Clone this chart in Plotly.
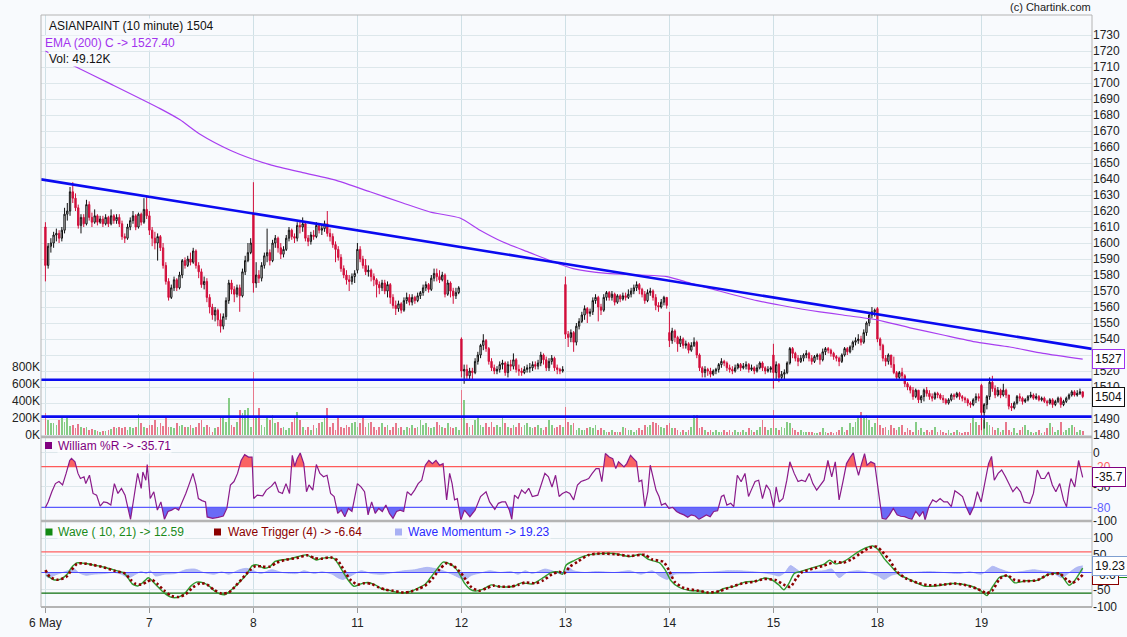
import plotly.graph_objects as go

# ---------------------------------------------------------------- data
DAY_LABELS = ["6 May", "7", "8", "11", "12", "13", "14", "15", "18", "19"]
BARS_PER_DAY = 38
DAY_OPEN = [1610, 1617, 1619, 1583, 1540, 1574, 1544, 1530, 1559, 1511]

close_06 = [1586,1598,1600,1605,1606,1603,1608,1618,1620,1632,1628,1622,1611,1616,1612,1624,1616,1613,1617,1613,1615,1612,1616,1612,1617,1614,1616,1612,1604,1603,1610,1614,1617,1610,1618,1613,1621,1617]
high_06 = [1613,1600,1603,1607,1609,1608,1610,1622,1625,1635,1638,1631,1624,1618,1618,1627,1626,1619,1621,1618,1617,1617,1618,1617,1621,1618,1618,1618,1614,1606,1612,1616,1620,1618,1619,1619,1628,1629]
low_06 = [1576,1584,1594,1597,1601,1600,1601,1606,1614,1617,1625,1620,1609,1606,1610,1611,1614,1610,1612,1611,1612,1610,1611,1610,1611,1612,1612,1610,1602,1600,1602,1608,1612,1608,1609,1611,1612,1615]

close_07 = [1608,1603,1600,1604,1597,1586,1576,1566,1572,1577,1572,1580,1589,1586,1590,1588,1595,1586,1582,1574,1576,1566,1560,1555,1558,1552,1548,1554,1564,1575,1571,1568,1572,1567,1582,1589,1594,1600]
high_07 = [1620,1610,1607,1606,1605,1600,1588,1578,1574,1579,1578,1582,1590,1591,1592,1594,1597,1596,1588,1584,1579,1578,1568,1562,1560,1559,1556,1556,1566,1577,1577,1573,1574,1574,1584,1592,1600,1603]
low_07 = [1605,1598,1596,1589,1595,1584,1574,1564,1565,1570,1570,1571,1578,1584,1585,1586,1587,1584,1578,1572,1571,1563,1556,1552,1551,1548,1544,1546,1552,1562,1568,1563,1566,1557,1566,1580,1588,1593]

close_08 = [1575,1580,1578,1586,1592,1594,1589,1600,1603,1597,1593,1596,1603,1608,1604,1603,1611,1610,1612,1603,1601,1605,1604,1611,1608,1609,1612,1606,1604,1599,1596,1591,1584,1580,1577,1576,1579,1581]
high_08 = [1638,1588,1583,1588,1594,1609,1596,1602,1605,1604,1600,1598,1605,1610,1609,1606,1613,1614,1616,1613,1605,1607,1608,1613,1612,1612,1614,1620,1609,1606,1601,1598,1593,1586,1583,1580,1581,1583]
low_08 = [1569,1572,1575,1576,1584,1588,1586,1588,1597,1594,1590,1591,1595,1601,1602,1600,1601,1606,1607,1601,1598,1599,1602,1603,1606,1605,1607,1604,1601,1597,1588,1589,1582,1578,1574,1570,1574,1575]

close_11 = [1596,1590,1586,1582,1583,1579,1577,1574,1572,1575,1570,1574,1566,1561,1559,1562,1558,1564,1566,1563,1566,1564,1567,1569,1572,1574,1571,1578,1581,1579,1577,1580,1568,1575,1570,1567,1569,1572]
high_11 = [1600,1598,1592,1590,1586,1584,1581,1578,1576,1577,1577,1576,1575,1568,1564,1564,1563,1566,1569,1568,1568,1567,1569,1570,1574,1576,1575,1580,1584,1584,1583,1582,1581,1577,1576,1572,1572,1573]
low_11 = [1581,1588,1584,1580,1579,1576,1573,1566,1568,1570,1568,1566,1562,1559,1555,1557,1556,1557,1562,1561,1561,1562,1563,1565,1567,1570,1569,1570,1576,1576,1575,1576,1566,1567,1566,1562,1565,1568]

close_12 = [1520,1521,1517,1520,1519,1526,1530,1536,1539,1534,1526,1522,1520,1521,1524,1525,1519,1524,1523,1527,1521,1520,1519,1521,1522,1522,1524,1523,1525,1530,1527,1522,1526,1528,1522,1521,1520,1521]
high_12 = [1541,1524,1524,1522,1522,1528,1532,1537,1543,1540,1535,1528,1524,1523,1526,1527,1526,1526,1527,1531,1528,1524,1522,1523,1524,1525,1526,1526,1527,1532,1531,1529,1528,1530,1529,1524,1522,1523]
low_12 = [1516,1512,1514,1514,1515,1518,1524,1528,1533,1532,1524,1520,1518,1518,1519,1521,1517,1516,1520,1521,1519,1517,1517,1518,1519,1519,1520,1521,1521,1523,1524,1520,1520,1524,1520,1518,1518,1519]

close_13 = [1543,1541,1544,1538,1548,1551,1555,1559,1556,1557,1564,1566,1560,1558,1566,1569,1566,1568,1563,1567,1565,1567,1566,1568,1570,1572,1574,1571,1568,1564,1569,1570,1566,1561,1560,1563,1566,1561]
high_13 = [1579,1545,1546,1545,1550,1553,1557,1561,1560,1559,1566,1568,1567,1562,1568,1570,1570,1570,1569,1568,1568,1569,1569,1571,1572,1574,1576,1575,1572,1570,1571,1572,1571,1568,1563,1565,1567,1566]
low_13 = [1540,1535,1538,1532,1536,1546,1550,1552,1550,1554,1555,1562,1551,1555,1557,1564,1564,1564,1561,1562,1563,1564,1564,1565,1566,1568,1570,1568,1566,1562,1563,1567,1564,1558,1557,1559,1561,1559]

close_14 = [1539,1545,1541,1537,1540,1536,1537,1533,1536,1538,1530,1522,1519,1521,1520,1518,1520,1521,1524,1526,1525,1522,1521,1520,1522,1524,1522,1523,1524,1521,1522,1520,1522,1525,1522,1520,1521,1522]
high_14 = [1557,1547,1546,1542,1542,1541,1539,1538,1538,1541,1539,1531,1523,1523,1522,1522,1521,1522,1525,1528,1527,1526,1524,1523,1524,1525,1525,1525,1526,1525,1524,1523,1524,1526,1526,1523,1523,1523]
low_14 = [1535,1537,1538,1532,1535,1534,1534,1531,1532,1535,1528,1520,1516,1516,1517,1516,1517,1518,1519,1522,1523,1520,1519,1518,1519,1521,1520,1521,1521,1519,1520,1518,1519,1521,1520,1518,1519,1519]

close_15 = [1519,1524,1516,1518,1519,1525,1534,1531,1528,1526,1528,1530,1531,1528,1526,1529,1530,1527,1532,1534,1533,1531,1529,1528,1526,1530,1534,1532,1535,1538,1539,1540,1538,1544,1550,1555,1557,1558]
high_15 = [1537,1526,1525,1520,1521,1526,1535,1535,1532,1530,1530,1531,1533,1532,1530,1530,1531,1531,1534,1535,1535,1534,1532,1530,1529,1531,1535,1535,1536,1539,1541,1543,1542,1546,1551,1556,1560,1559]
low_15 = [1509,1514,1513,1514,1515,1518,1524,1528,1526,1523,1525,1526,1528,1526,1524,1525,1527,1524,1526,1530,1531,1529,1527,1526,1523,1525,1529,1530,1531,1533,1536,1537,1536,1537,1542,1548,1553,1554]

close_18 = [1540,1536,1528,1526,1530,1524,1519,1516,1519,1517,1512,1510,1508,1504,1508,1502,1504,1508,1506,1504,1503,1506,1505,1503,1502,1500,1502,1505,1504,1506,1504,1503,1502,1500,1499,1502,1504,1503]
high_18 = [1560,1541,1537,1530,1531,1530,1529,1520,1520,1522,1518,1513,1511,1510,1509,1508,1505,1509,1510,1508,1506,1507,1507,1506,1505,1503,1503,1506,1506,1507,1507,1505,1504,1503,1501,1503,1506,1506]
low_18 = [1538,1533,1526,1523,1524,1522,1518,1514,1514,1515,1510,1508,1506,1502,1503,1500,1500,1501,1504,1502,1501,1502,1503,1502,1500,1499,1499,1501,1502,1503,1502,1501,1500,1498,1497,1498,1500,1501]

close_19 = [1494,1499,1504,1513,1509,1505,1508,1505,1508,1505,1498,1497,1500,1504,1503,1501,1502,1504,1505,1503,1504,1502,1503,1501,1500,1502,1499,1501,1503,1499,1501,1503,1505,1507,1505,1506,1507,1504]
high_19 = [1512,1500,1505,1516,1517,1511,1510,1509,1512,1509,1505,1500,1501,1505,1506,1504,1503,1505,1507,1506,1506,1505,1504,1504,1502,1503,1503,1502,1504,1504,1502,1504,1506,1508,1508,1508,1509,1507]
low_19 = [1483,1484,1496,1502,1507,1503,1504,1503,1504,1503,1496,1495,1496,1499,1501,1499,1500,1501,1503,1502,1502,1501,1501,1500,1498,1499,1497,1498,1500,1497,1498,1500,1502,1504,1504,1504,1505,1503]

# volume in thousands
vol_06 = [254,176,137,137,117,176,195,148,195,110,117,78,125,98,78,98,59,66,59,50,39,45,50,59,70,98,78,98,78,98,59,98,78,90,246,137,90,78]
vol_07 = [120,117,176,98,137,110,215,98,98,78,137,110,117,98,98,117,78,100,137,176,98,117,90,40,78,98,195,215,150,430,117,98,156,293,254,293,312,98]
vol_08 = [742,215,312,117,98,215,176,234,137,156,78,98,59,78,156,215,273,176,98,59,98,59,117,78,137,156,195,312,98,137,59,215,98,78,117,98,137,156]
vol_11 = [98,137,195,98,137,156,98,59,98,137,98,117,59,98,137,78,98,59,98,78,117,78,98,176,117,137,98,78,98,156,117,98,78,137,98,78,98,59]
vol_12 = [535,410,137,98,117,176,195,117,98,137,98,156,98,117,98,195,137,98,78,117,98,137,98,117,137,98,78,98,117,78,59,98,176,117,78,98,117,98]
vol_13 = [332,156,117,137,59,78,59,59,78,98,78,117,59,78,59,39,39,59,39,39,39,98,78,59,59,39,59,78,59,117,98,117,156,137,117,98,78,117]
vol_14 = [137,78,78,59,39,59,39,59,98,234,234,78,98,59,39,59,39,59,39,39,59,39,59,39,59,39,39,59,39,78,59,39,59,98,176,98,59,78]
vol_15 = [293,78,59,98,78,156,137,78,59,39,59,39,39,39,39,20,27,39,78,39,27,39,20,39,59,98,39,59,137,98,156,195,265,195,234,176,98,137]
vol_18 = [195,117,78,98,59,117,78,59,98,117,39,78,59,39,156,59,78,39,59,39,59,98,39,59,39,27,59,27,39,59,39,27,39,39,137,195,156,117]
vol_19 = [234,176,156,117,98,59,78,39,59,156,59,39,78,27,59,98,117,59,39,20,39,59,27,39,78,137,98,39,59,148,39,59,78,117,98,39,59,49.12]

# EMA(200) read at bar positions
ema_pos = [0,10.5,23.6,41.9,49.2,56.5,67.5,74.8,82,94,106.5,118.6,130.6,140.5,151.5,158.8,167.2,177,184.4,192.8,205.2,217.3,227.1,235.5,247.6,260,272,283,291.4,303.8,315.9,328,340.4,352.4,364.5,379]
ema_val = [1720,1710.6,1699.6,1684,1677,1668,1658,1653,1649,1644,1639,1632,1625,1619.4,1615.6,1608,1600.6,1594,1589,1584,1581,1580,1579,1575,1569.4,1564,1560,1557,1555,1552,1547,1542.5,1538,1535,1531,1527.4]

trend_pos = [-1.6, 382.4]
trend_val = [1639.8, 1533.8]
support_levels = [1514.5, 1491.5]

# Williams %R (bar position, value)
wr_points = [(0,-80),(1.0,-72),(2.35,-57),(3.66,-45),(4.96,-42),(6.27,-47),(7.57,-30),(8.88,-11),(9.53,-8),(10.8,-13),
 (11.9,-30),(12.8,-37.5),(14.1,-35),(14.75,-45),(16.1,-32.7),(17.4,-59.5),(18.7,-62),(20.0,-78),(21.3,-72),(22.6,-73),
 (23.9,-76.6),(25.2,-45),(26.5,-59.5),(27.8,-52),(29.1,-62),(30.2,-80),(31.1,-97.6),(32.4,-64),(33.7,-30),(35.0,-52),
 (35.6,-28),(36.7,-40),(37.2,-17),(38.3,-67),(39.6,-57),(40.9,-84),(42.2,-72),(43.5,-97.6),(44.8,-86),(46.1,-84),
 (47.4,-81),(48.7,-84),(50.0,-72),(51.3,-59.5),(52.6,-45),(53.9,-30),(55.0,-47),(55.9,-67),(57.2,-70),(58.5,-72),
 (59.1,-94),(61.1,-96),(63.1,-94.6),(65.0,-92.7),(66.3,-81.5),(67.6,-47),(68.9,-42),(70.2,-30),(71.5,-11),(72.8,-2.4),
 (74.2,-6),(75.5,-6),(76.1,-67),(77.4,-62),(79.4,-63),(80.7,-54.6),(82.6,-48.8),(83.9,-42.4),(85.2,-57),(86.6,-59.5),
 (87.9,-45),(89.2,-59.5),(90.2,-3.4),(91.1,-19.5),(92.0,-8.3),(93.1,0),(94.4,-15.6),(95.4,-57),(96.3,-47),(97.7,-54.6),
 (99.0,-17),(100.3,-30),(101.6,-35),(102.9,-32.7),(104.2,-59.5),(105.5,-64),(106.8,-88.8),(108.1,-84),(109.4,-93.7),(110.7,-81.5),
 (112.0,-86),(114.0,-45),(115.3,-49.8),(116.6,-57),(117.9,-91),(119.2,-72),(120.5,-88.8),(121.8,-81.5),(123.1,-86),(124.4,-76.6),
 (125.7,-88.8),(127.0,-96),(128.3,-86),(129.6,-84),(130.9,-86),(132.2,-57),(133.6,-62),(134.9,-54.6),(136.2,-45),(137.5,-40),
 (138.8,-18),(140.1,-11),(141.4,-15.6),(142.7,-11),(144.0,-18),(145.3,-15.6),(146.6,-69),(147.7,-30),(148.6,-45),(149.5,-69),
 (150.5,-67),(151.8,-98.5),(153.1,-84),(155.1,-93.7),(157.0,-84),(159.0,-64),(161.0,-57),(162.3,-72),(164.2,-83),(165.5,-74),
 (166.8,-72),(168.1,-72),(169.5,-84),(170.4,-97.6),(171.4,-62),(172.7,-67),(174.0,-54.6),(175.3,-59.5),(176.6,-52),(177.9,-64),
 (179.9,-62),(181.2,-47),(182.5,-30),(183.8,-35),(185.1,-50),(186.4,-32.7),(187.7,-64),(188.9,-59.5),(190.3,-57),(191.6,-59.5),
 (193.0,-69),(194.4,-47),(195.7,-42),(197.1,-40),(198.5,-37.5),(199.8,-30),(201.2,-23),(202.3,-23),(203.3,-42),(204.6,-0.7),
 (206.0,-6),(207.3,-8.3),(208.4,-23),(209.4,-13),(210.5,-18),(211.4,-20.5),(212.4,-15.6),(213.8,-3.4),(214.9,-8.3),(216.0,-13),
 (216.9,-42),(217.9,-40),(219.0,-79),(220.1,-57),(221.0,-18),(222.1,-40),(223.1,-54.6),(224.2,-64),(225.1,-76.6),(226.5,-74),
 (227.8,-81.5),(229.2,-80),(230.6,-86),(231.9,-88.8),(233.3,-91),(234.7,-94.6),(236.0,-91),(237.4,-92.7),(238.8,-97.6),(240.1,-94.6),
 (241.5,-91),(242.9,-93.7),(244.2,-86),(245.6,-85),(247.0,-64),(247.9,-62),(249.0,-76.6),(250.4,-74),(251.5,-79),(252.8,-32.7),
 (254.2,-42.4),(255.6,-30),(256.9,-64),(257.9,-54.6),(259.3,-42),(260.6,-40),(262.0,-67),(263.4,-47),(264.7,-54.6),(266.1,-80),
 (267.0,-50),(268.1,-72),(269.5,-67),(270.9,-40),(272.0,-13),(273.6,-30),(275.0,-42),(276.3,-40),(277.7,-42),(279.1,-30),
 (280.4,-45),(281.8,-54.6),(283.2,-47),(284.5,-40),(285.9,-11),(287.3,-35),(288.6,-13),(290.0,-69),(291.4,-42),(292.7,-15.6),
 (294.1,-6),(295.2,0),(296.1,-18),(297.1,-32.7),(298.2,-15.6),(299.3,-1),(300.2,-18),(301.6,-13),(303.0,-15.6),(304.3,-57),
 (305.7,-96),(307.1,-97.6),(308.4,-91),(309.8,-81.5),(311.2,-91),(312.5,-93),(313.9,-93.7),(315.3,-96),(316.6,-97.6),(318.0,-86),
 (319.4,-93),(320.7,-86),(321.4,-98.5),(322.8,-79),(324.2,-69),(325.5,-72),(326.9,-67),(328.3,-72),(329.6,-72),(331.0,-79),
 (332.3,-55.6),(333.7,-59.5),(335.1,-64),(336.4,-79),(337.8,-91),(339.2,-79),(340.5,-57),(341.9,-72),(343.3,-45),(344.6,-15.6),
 (345.7,-5),(346.7,-40),(348.1,-30),(349.4,-25),(350.8,-35),(352.2,-47),(353.5,-57),(354.9,-50),(356.3,-57),(357.6,-72),
 (359.7,-74),(361.0,-59.5),(362.4,-25),(363.8,-37.5),(365.1,-37.5),(366.5,-28),(367.9,-47),(369.2,-57),(370.6,-45),(372.0,-69),
 (373.1,-79),(374.0,-52),(374.7,-37.5),(376.1,-50),(377.5,-11),(379,-35.71)]

# Wave (10,21) (bar position, value)
wave_points = [(0.4,-8),(3.0,-21),(5.6,-19),(8.2,-3),(9.5,14),(11.5,28),(14.8,26),(17.4,22),(21.3,16),(25.2,7),
 (28.5,-1),(29.8,-11),(31.7,-33),(33.7,-39),(35.6,-29),(37.6,-15),(38.9,-23),(40.9,-40),(43.5,-60),(46.1,-72),
 (48.7,-71),(51.3,-57),(53.3,-38),(55.2,-28),(57.8,-30),(59.8,-39),(61.7,-53),(63.7,-62),(65.7,-64),(68.3,-48),
 (70.9,-28),(73.5,-6),(75.5,19),(77.4,22),(80.0,12),(82.0,17),(83.9,32),(86.6,37),(89.2,39),(91.8,45),
 (95.0,51),(97.0,45),(99.0,36),(100.9,41),(103.5,43),(105.5,40),(106.8,27),(108.7,2),(110.7,-23),(112.7,-40),
 (115.3,-33),(117.9,-29),(120.5,-36),(123.1,-48),(125.7,-52),(128.3,-57),(130.9,-59),(133.6,-54),(136.2,-45),(138.8,-34),
 (140.7,-15),(143.3,12),(145.3,30),(147.9,24),(149.9,12),(151.8,-11),(153.1,-31),(155.1,-48),(157.0,-54),(159.7,-49),
 (162.9,-36),(165.5,-41),(168.8,-42),(171.4,-39),(174.0,-30),(177.9,-33),(181.9,-15),(184.5,-1),(187.1,2),(188.9,-5),
 (190.3,22),(193.0,34),(197.1,48),(201.2,54),(208.0,55),(213.5,46),(217.6,53),(220.3,38),(224.4,28),(226.5,7),
 (228.5,-23),(231.3,-42),(235.4,-52),(239.5,-54),(242.2,-60),(244.9,-58),(247.7,-47),(251.7,-40),(255.8,-27),(259.9,-25),
 (262.7,-16),(265.4,-21),(268.1,-37),(269.8,-50),(271.6,-32),(273.6,-3),(276.3,4),(280.4,14),(284.5,24),(286.6,36),
 (288.6,25),(291.4,31),(294.1,44),(296.8,59),(299.6,71),(302.3,77),(304.3,66),(306.4,41),(309.1,17),(311.9,-6),
 (316.0,-21),(321.4,-40),(326.9,-37),(331.0,-32),(335.1,-34),(339.2,-42),(341.9,-54),(344.0,-67),(346.0,-42),(348.7,-13),
 (351.5,-10),(354.2,-30),(358.3,-24),(362.4,-23),(366.5,-5),(370.6,-3),(374.0,-37),(376.1,-23),(379,12.59)]

# Wave trigger (4)
trig_points = [(0,7),(1.7,-13),(4.3,-21),(7.6,-13),(9.5,7),(11.5,25),(13.4,27),(17.4,22),(21.3,15),(25.2,5),
 (29.1,-3),(31.1,-21),(33.0,-33),(35.0,-35),(36.9,-28),(38.9,-21),(40.9,-33),(43.5,-53),(46.1,-68),(48.7,-71),
 (51.3,-63),(53.9,-43),(56.5,-31),(59.1,-35),(61.7,-51),(64.4,-61),(67.0,-58),(69.6,-38),(72.2,-15),(74.8,7),
 (76.8,19),(79.4,17),(82.0,17),(84.6,29),(87.9,37),(91.8,42),(95.7,50),(98.3,42),(100.9,40),(104.2,44),
 (106.8,35),(108.7,12),(111.4,-21),(114.0,-35),(116.6,-31),(119.2,-33),(121.8,-43),(124.4,-50),(127.0,-53),(130.9,-58),
 (133.6,-55),(136.2,-48),(138.8,-38),(141.4,-18),(144.0,9),(146.6,27),(149.2,19),(151.8,-1),(153.1,-15),(155.7,-43),
 (158.4,-53),(161.0,-46),(163.6,-38),(166.2,-41),(170.1,-41),(172.7,-36),(175.3,-29),(179.2,-31),(181.9,-23),(185.1,-5),
 (187.7,2),(189.6,-2),(191.6,17),(194.4,31),(198.5,51),(202.6,55),(208.0,53),(213.5,48),(219.0,51),(221.7,38),
 (225.8,31),(227.8,7),(229.9,-27),(233.3,-45),(238.1,-52),(242.2,-58),(246.3,-54),(250.4,-42),(254.5,-32),(258.6,-27),
 (262.7,-19),(266.8,-22),(270.2,-37),(272.2,-42),(274.3,-18),(276.3,0),(280.4,11),(284.5,20),(288.6,31),(291.4,28),
 (294.8,39),(297.5,54),(300.9,71),(303.7,75),(305.7,61),(308.4,36),(311.2,2),(314.6,-18),(318.7,-30),(322.8,-37),
 (328.3,-35),(332.3,-32),(336.4,-37),(340.5,-47),(344.0,-60),(346.0,-52),(348.7,-18),(351.5,-8),(354.2,-22),(358.3,-25),
 (362.4,-22),(366.5,-6),(370.6,-3),(373.3,-22),(375.3,-30),(377.3,-20),(379,-6.64)]

# Wave momentum
mom_points = [(0,-8),(1.0,-15),(4.3,-5),(8.2,5),(10.2,12),(12.1,0),(14.8,-8),(17.4,-5),(21.3,-3),(25.2,0),
 (27.8,-5),(30.4,-15),(33.0,-5),(35.0,3),(36.9,-3),(38.3,5),(40.2,-10),(43.5,-5),(47.4,-3),(51.3,8),
 (54.6,10),(57.8,0),(61.7,-5),(64.4,2),(67.0,-5),(70.9,8),(73.5,12),(76.1,5),(78.7,-3),(82.6,8),
 (86.6,0),(91.8,-3),(94.4,5),(98.3,-3),(100.9,2),(104.8,-5),(106.8,-15),(108.7,-20),(112.0,-8),(115.3,5),
 (119.2,-3),(123.1,-5),(127.0,0),(130.9,5),(134.9,8),(139.4,15),(142.0,12),(145.3,5),(148.6,-5),(151.2,-15),
 (153.1,-22),(155.7,-8),(159.7,0),(162.3,5),(166.2,0),(170.1,3),(172.7,-5),(175.3,5),(177.9,-3),(182.5,10),
 (185.1,5),(188.9,-5),(191.0,15),(193.0,5),(197.1,0),(201.2,3),(208.0,0),(213.5,5),(217.6,-5),(221.7,5),
 (224.4,-10),(227.2,-20),(229.9,-5),(235.4,-3),(239.5,0),(244.9,2),(249.0,5),(253.1,5),(257.2,3),(261.3,0),
 (265.4,-5),(268.1,-10),(270.2,0),(272.2,20),(274.3,10),(276.3,0),(280.4,3),(284.5,5),(287.3,10),(290.0,-15),
 (292.7,0),(296.8,5),(300.9,0),(304.3,-10),(306.4,-20),(309.1,-8),(311.9,-3),(317.3,0),(322.8,3),(328.3,0),
 (333.7,-3),(337.8,2),(341.9,-5),(344.6,10),(346.0,18),(348.7,10),(352.8,0),(356.9,3),(361.0,8),(363.8,5),
 (367.9,0),(371.4,-15),(374.1,0),(376.8,15),(379,19.23)]

# ---------------------------------------------------------------- assemble
closes_by_day = [close_06, close_07, close_08, close_11, close_12, close_13, close_14, close_15, close_18, close_19]
highs_by_day = [high_06, high_07, high_08, high_11, high_12, high_13, high_14, high_15, high_18, high_19]
lows_by_day = [low_06, low_07, low_08, low_11, low_12, low_13, low_14, low_15, low_18, low_19]
vols_by_day = [vol_06, vol_07, vol_08, vol_11, vol_12, vol_13, vol_14, vol_15, vol_18, vol_19]

o, h, l, c, v = [], [], [], [], []
for d in range(len(DAY_LABELS)):
    cd = closes_by_day[d]
    od = [DAY_OPEN[d]] + cd[:-1]
    for k in range(BARS_PER_DAY):
        o.append(od[k]); c.append(cd[k])
        h.append(max(highs_by_day[d][k], od[k], cd[k]))
        l.append(min(lows_by_day[d][k], od[k], cd[k]))
        v.append(vols_by_day[d][k] * 1000)
xs = list(range(len(c)))
vol_colors = ["#86cc86" if c[i] >= o[i] else "#e8788c" for i in range(len(c))]

# ---------------------------------------------------------------- geometry
W, H = 1127, 637
ML, MR, MT, MB = 41, 35, 15, 30
PW, PH = W - ML - MR, H - MT - MB
def pyf(ypix):
    return (H - MB - ypix) / PH
def pxf(xpix):
    return (xpix - ML) / PW

D_MAIN = [pyf(437), 1.0]
D_WR = [pyf(521), pyf(437)]
D_WAVE = [0.0, pyf(521)]
X_RANGE = [-1.61, 382.4]

BG = "#f8fafd"
GRID = "#dde7eb"
VGRID = "#cfe0e6"
FONT = "Liberation Sans, Arial, sans-serif"

def excursions(px, py, level, above):
    sgn = 1 if above else -1
    ox, oy, cx, cy = [], [], [], []
    for k in range(len(px)):
        x, y = px[k], py[k]
        ins = (y - level) * sgn > 0
        if k > 0:
            x0, y0 = px[k - 1], py[k - 1]
            pins = (y0 - level) * sgn > 0
            if ins != pins:
                t = (level - y0) / (y - y0)
                cx.append(x0 + t * (x - x0)); cy.append(level)
                if pins:
                    ox += cx + [None]; oy += cy + [None]
                    cx, cy = [], []
        elif ins:
            cx.append(x); cy.append(level)
        if ins:
            cx.append(x); cy.append(y)
    if cx:
        cx.append(px[-1]); cy.append(level)
        ox += cx; oy += cy
    return ox, oy

fig = go.Figure()

fig.add_trace(go.Bar(x=xs, y=v, marker=dict(color=vol_colors, line=dict(width=0)),
                     width=0.62, xaxis="x", yaxis="y", showlegend=False, hoverinfo="skip"))
fig.add_trace(go.Candlestick(x=xs, open=o, high=h, low=l, close=c, xaxis="x", yaxis="y2",
                             increasing=dict(line=dict(color="#111111", width=1), fillcolor="#ffffff"),
                             decreasing=dict(line=dict(color="#d20f3c", width=1), fillcolor="#d20f3c"),
                             whiskerwidth=0, showlegend=False, hoverinfo="skip"))
fig.add_trace(go.Scatter(x=ema_pos, y=ema_val, mode="lines", line=dict(color="#a83ef0", width=1.2, shape="spline", smoothing=0.6),
                         xaxis="x", yaxis="y2", showlegend=False, hoverinfo="skip"))
fig.add_trace(go.Scatter(x=trend_pos, y=trend_val, mode="lines", line=dict(color="#0a0af0", width=2.6),
                         xaxis="x", yaxis="y2", showlegend=False, hoverinfo="skip"))
for lvl in support_levels:
    fig.add_trace(go.Scatter(x=X_RANGE, y=[lvl, lvl], mode="lines", line=dict(color="#0a0af0", width=2.6),
                             xaxis="x", yaxis="y2", showlegend=False, hoverinfo="skip"))

wr_x = [p[0] for p in wr_points]
wr_y = [p[1] for p in wr_points]
fx, fy = excursions(wr_x, wr_y, -20, True)
fig.add_trace(go.Scatter(x=fx, y=fy, mode="none", fill="toself", fillcolor="#fa6464",
                         xaxis="x", yaxis="y3", showlegend=False, hoverinfo="skip"))
fx, fy = excursions(wr_x, wr_y, -80, False)
fig.add_trace(go.Scatter(x=fx, y=fy, mode="none", fill="toself", fillcolor="#6a6af6",
                         xaxis="x", yaxis="y3", showlegend=False, hoverinfo="skip"))
fig.add_trace(go.Scatter(x=X_RANGE, y=[-20, -20], mode="lines", line=dict(color="#ff5a5a", width=1.2),
                         xaxis="x", yaxis="y3", showlegend=False, hoverinfo="skip"))
fig.add_trace(go.Scatter(x=X_RANGE, y=[-80, -80], mode="lines", line=dict(color="#5a5aff", width=1.2),
                         xaxis="x", yaxis="y3", showlegend=False, hoverinfo="skip"))
fig.add_trace(go.Scatter(x=wr_x, y=wr_y, mode="lines", line=dict(color="#8a1a8a", width=1.2),
                         xaxis="x", yaxis="y3", showlegend=False, hoverinfo="skip"))

fig.add_trace(go.Scatter(x=[p[0] for p in mom_points], y=[p[1] for p in mom_points], mode="lines",
                         line=dict(color="#aab2f4", width=0.8, shape="spline", smoothing=0.7), fill="tozeroy",
                         fillcolor="rgba(160,170,240,0.8)", xaxis="x", yaxis="y4", showlegend=False, hoverinfo="skip"))
fig.add_trace(go.Scatter(x=X_RANGE, y=[60, 60], mode="lines", line=dict(color="#ff6060", width=1.2),
                         xaxis="x", yaxis="y4", showlegend=False, hoverinfo="skip"))
fig.add_trace(go.Scatter(x=X_RANGE, y=[-60, -60], mode="lines", line=dict(color="#0b6e0b", width=1.2),
                         xaxis="x", yaxis="y4", showlegend=False, hoverinfo="skip"))
fig.add_trace(go.Scatter(x=X_RANGE, y=[0, 0], mode="lines", line=dict(color="#4a4aff", width=1.2),
                         xaxis="x", yaxis="y4", showlegend=False, hoverinfo="skip"))
fig.add_trace(go.Scatter(x=[p[0] for p in wave_points], y=[p[1] for p in wave_points], mode="lines",
                         line=dict(color="#2f9a2f", width=1.4, shape="spline", smoothing=0.6),
                         xaxis="x", yaxis="y4", showlegend=False, hoverinfo="skip"))
fig.add_trace(go.Scatter(x=[p[0] for p in trig_points], y=[p[1] for p in trig_points], mode="lines",
                         line=dict(color="#8b0000", width=2.6, dash="2.5px,2.5px", shape="spline", smoothing=0.6),
                         xaxis="x", yaxis="y4", showlegend=False, hoverinfo="skip"))

price_ticks = list(range(1480, 1731, 10))
price_text = ["" if t == 1530 else str(t) for t in price_ticks]   # 1530 sits under the 1527 marker

tick_font = dict(family=FONT, size=12, color="#222222")
fig.update_layout(
    width=W, height=H, margin=dict(l=ML, r=MR, t=MT, b=MB, autoexpand=False),
    paper_bgcolor=BG, plot_bgcolor=BG, showlegend=False, bargap=0, hovermode=False,
    font=dict(family=FONT, size=12, color="#222222"),
    xaxis=dict(domain=[0, 1], range=X_RANGE, anchor="y4", tickmode="array", automargin=False,
               tickvals=[d * BARS_PER_DAY for d in range(len(DAY_LABELS))], ticktext=DAY_LABELS,
               showgrid=True, gridcolor=VGRID, gridwidth=1, zeroline=False,
               ticks="outside", ticklen=5, tickcolor="#999999", tickfont=tick_font,
               showline=False, rangeslider=dict(visible=False)),
    yaxis=dict(domain=D_MAIN, range=[-23500, 4941000], side="left", anchor="x", automargin=False,
               tickmode="array", tickvals=[0, 200000, 400000, 600000, 800000],
               ticktext=["0K", "200K", "400K", "600K", "800K"], showgrid=False, zeroline=False,
               tickfont=tick_font, ticks=""),
    yaxis2=dict(domain=D_MAIN, range=[1478.75, 1742.5], side="right", overlaying="y", anchor="x", automargin=False,
                tickmode="array", tickvals=price_ticks, ticktext=price_text, showgrid=True, gridcolor=GRID, zeroline=False,
                tickfont=tick_font, ticks=""),
    yaxis3=dict(domain=D_WR, range=[-100, 23.5], side="right", anchor="x", tickmode="array", automargin=False,
                tickvals=[0, -20, -50, -80, -100],
                ticktext=["0", '<span style="color:#ff6060">-20</span>', "-50",
                          '<span style="color:#6060ff">-80</span>', "-100"],
                showgrid=True, gridcolor=GRID, zeroline=False, tickfont=tick_font, ticks=""),
    yaxis4=dict(domain=D_WAVE, range=[-100, 149.3], side="right", anchor="x", tickmode="array", automargin=False,
                tickvals=[100, 50, 0, -50, -100], ticktext=["100", "50", "", "-50", "-100"],
                showgrid=True, gridcolor=GRID, zeroline=False, tickfont=tick_font, ticks=""),
)

shapes = [
    dict(type="rect", xref="paper", yref="paper", x0=0, x1=1, y0=0, y1=1, line=dict(color="#b4b4b4", width=1), layer="above"),
    dict(type="line", xref="paper", yref="paper", x0=0, x1=1, y0=pyf(437), y1=pyf(437), line=dict(color="#b4b4b4", width=2.5), layer="above"),
    dict(type="line", xref="paper", yref="paper", x0=0, x1=1, y0=pyf(521), y1=pyf(521), line=dict(color="#b4b4b4", width=2.5), layer="above"),
    dict(type="line", xref="paper", yref="paper", x0=0, x1=1, y0=0, y1=0, line=dict(color="#b4b4b4", width=2), layer="above"),
]
def square(xpix, ypix, color):
    return dict(type="rect", xref="paper", yref="paper", x0=pxf(xpix), x1=pxf(xpix + 7),
                y0=pyf(ypix + 3.5), y1=pyf(ypix - 3.5), fillcolor=color, line=dict(width=0), layer="above")
shapes += [square(45, 445.5, "#800080"), square(45.5, 532, "#128a12"), square(214, 532, "#8b0000"), square(395, 532, "#a8b0f4")]
fig.update_layout(shapes=shapes)

ann = []
def label(text, xpix, ypix, color, bg=BG, size=12):
    ann.append(dict(text=text, xref="paper", yref="paper", x=pxf(xpix), y=pyf(ypix), xanchor="left", yanchor="middle",
                    showarrow=False, font=dict(family=FONT, size=size, color=color), bgcolor=bg, borderpad=0))
label("ASIANPAINT (10 minute) 1504", 48, 26, "#111111")
label("EMA (200) C -> 1527.40", 44, 42.5, "#a233ee")
label("Vol: 49.12K", 48, 59, "#111111")
label("William %R -> -35.71", 57, 445.5, "#800080", bg="rgba(255,255,255,0.6)")
label("Wave ( 10, 21) -> 12.59", 57, 532, "#1a8a1a", bg="rgba(255,255,255,0.6)")
label("Wave Trigger (4) -> -6.64", 227, 532, "#8b0000", bg="rgba(255,255,255,0.6)")
label("Wave Momentum -> 19.23", 407, 532, "#2a2aff", bg="rgba(255,255,255,0.6)")
ann.append(dict(text="(c) Chartink.com", xref="paper", yref="paper", x=pxf(1093), y=pyf(7), xanchor="right", yanchor="middle",
                showarrow=False, font=dict(family=FONT, size=11, color="#222222")))

def value_box(text, yval, yref, border, color="#111111", xshift=0):
    ann.append(dict(text=text, xref="paper", yref=yref, x=1.0, y=yval, xanchor="left", yanchor="middle", xshift=xshift,
                    showarrow=False, font=dict(family=FONT, size=12, color=color), bgcolor="#ffffff",
                    bordercolor=border, borderwidth=1, borderpad=2))
value_box("1527", 1527.4, "y2", "#a033ee")
value_box("1504", 1504, "y2", "#111111")
value_box("-35.7", -35.71, "y3", "#800080")
value_box("&nbsp;&nbsp;&nbsp;&nbsp;&nbsp;&nbsp;&nbsp;&nbsp;&nbsp;", 12.59, "y4", "#1a8a1a", xshift=2)
value_box("-6.6", -6.64, "y4", "#8b0000")
value_box("19.23", 19.23, "y4", "#7f9fd0")
fig.update_layout(annotations=ann)

fig.write_html("out.html", config={"displayModeBar": False, "staticPlot": True},
               post_script="document.body.style.margin='0px';document.body.style.overflow='hidden';")
